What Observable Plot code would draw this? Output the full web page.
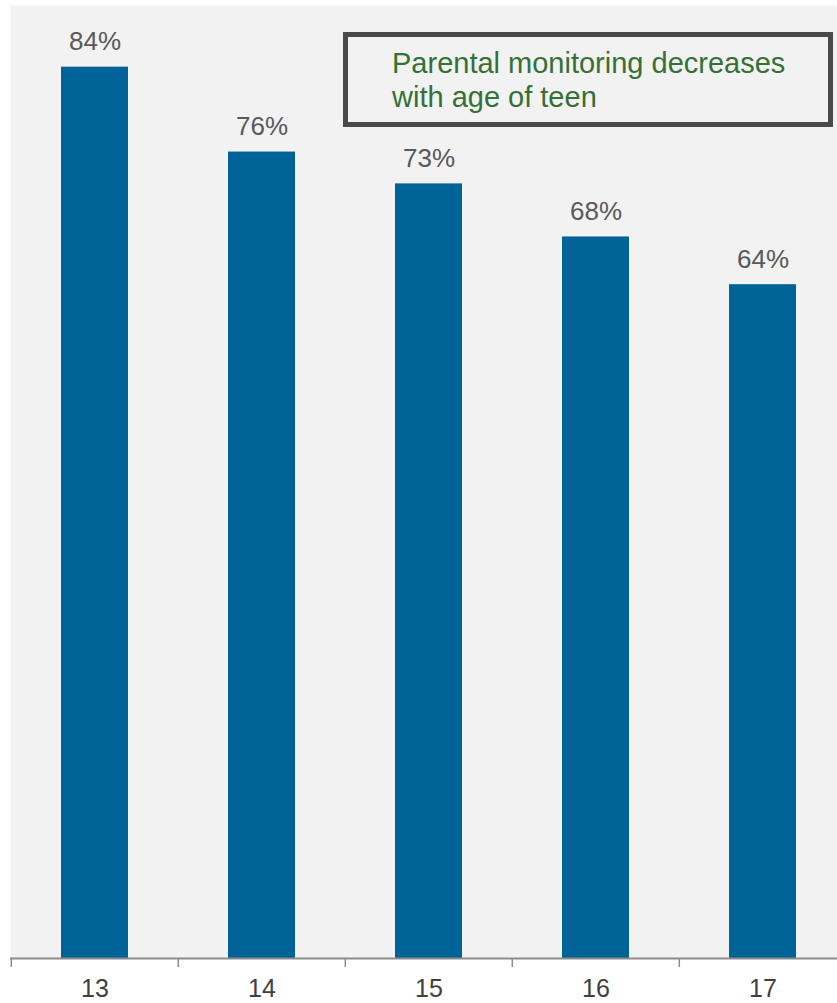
<!DOCTYPE html>
<html>
<head>
<meta charset="utf-8">
<script src="https://cdn.jsdelivr.net/npm/d3@7"></script>
<script src="https://cdn.jsdelivr.net/npm/@observablehq/plot@0.6"></script>
<style>
  html, body { margin: 0; padding: 0; background: #ffffff; }
  #wrap { position: relative; width: 837px; height: 1003px; font-family: "Liberation Sans", Arial, sans-serif; }
  #note {
    position: absolute; left: 343px; top: 32px; width: 490px; height: 95px;
    box-sizing: border-box; border: 5px solid #4a4a4a;
    padding: 9px 0 0 44px; color: #357035; font-size: 29px; line-height: 34px;
  }
</style>
</head>
<body>
<div id="wrap"></div>
<script>
const ages = ["13", "14", "15", "16", "17"];
const shares = [84, 76, 73, 68, 63.5];
const valueLabels = ["84%", "76%", "73%", "68%", "64%"];
const noteText = "Parental monitoring decreases with age of teen";

const data = ages.map((a, i) => ({age: a, share: shares[i], label: valueLabels[i]}));

const W = 837, H = 1003;
const step = W / ages.length;

const chart = Plot.plot({
  width: W,
  height: H,
  marginLeft: 10,
  marginRight: 0,
  marginTop: 5,
  marginBottom: 45,
  style: {fontFamily: "Liberation Sans, Arial, sans-serif", background: "#ffffff", overflow: "visible"},
  x: {domain: ages, range: [10, 10 + W], paddingInner: 0.6, paddingOuter: 0.3, axis: null},
  y: {domain: [0, 90], range: [958, 3], axis: null},
  marks: [
    Plot.frame({fill: "#f2f2f2", stroke: null}),
    Plot.barY(data, {x: "age", y: "share", fill: "#006398"}),
    Plot.ruleY([0], {stroke: "#8c8c8c", strokeWidth: 2}),
    Plot.ruleX(ages, {x: d => d, y1: 0, y2: 0, insetBottom: -9, dx: -step / 2, stroke: "#8c8c8c", strokeWidth: 1.5}),
    Plot.text(data, {x: "age", y: "share", text: "label", dy: -25, lineAnchor: "middle", fontSize: 26, fill: "#595959"}),
    Plot.text(ages, {x: d => d, y: 0, text: d => d, dy: 30, lineAnchor: "middle", fontSize: 25, fill: "#404040"})
  ]
});

const wrap = document.getElementById("wrap");
wrap.appendChild(chart);
const note = document.createElement("div");
note.id = "note";
note.textContent = noteText;
wrap.appendChild(note);
</script>
</body>
</html>
